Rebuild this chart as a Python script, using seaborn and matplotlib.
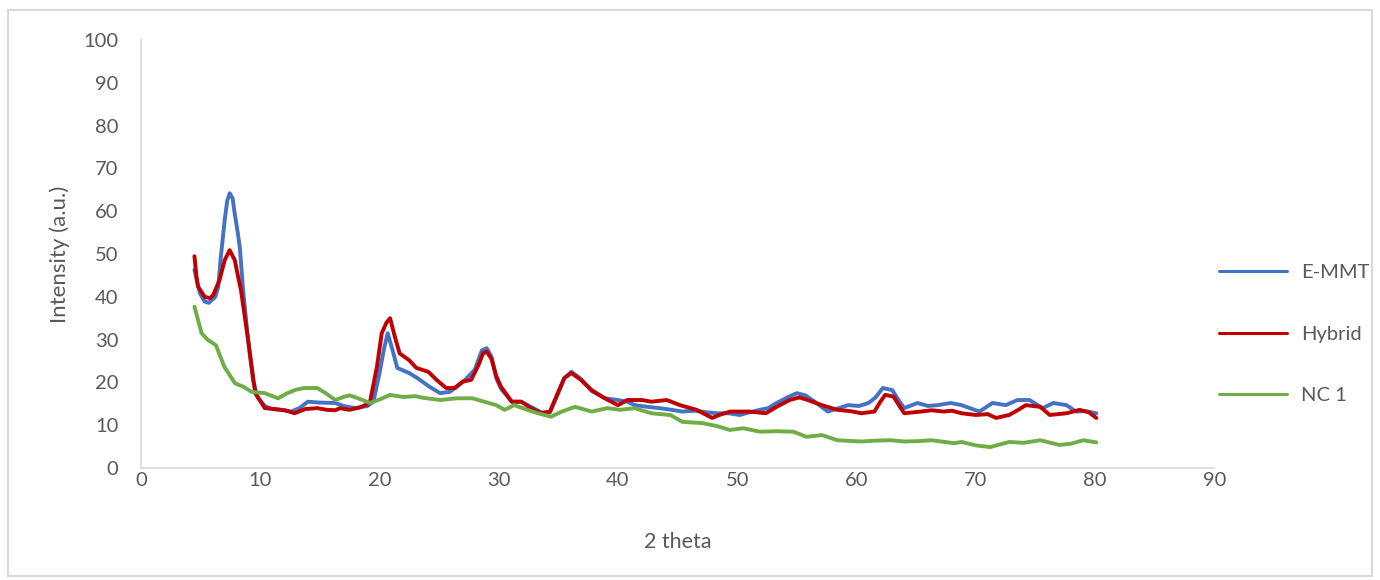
import numpy as np
import pandas as pd
import matplotlib
matplotlib.use("Agg")
import matplotlib.pyplot as plt
import seaborn as sns
from matplotlib.patches import Rectangle

# values
emmt_x = [4.5, 4.95, 5.36, 5.7, 6.25, 6.5, 6.7, 7.04, 7.25, 7.46, 7.7, 7.9, 8.1, 8.3,
          8.58, 9.0, 9.4, 9.8, 10.4, 11.0,
          12.0, 12.6, 13.3, 14.0, 15.0, 16.3, 17.0, 18.0, 19.0, 19.5, 20.0, 20.4,
          20.7, 21.1, 21.5, 22.5, 23.2, 24.2, 25.1, 25.9, 26.5, 27.2, 28.0, 28.6,
          29.0, 29.4, 29.8, 30.2, 31.1, 31.9, 32.7, 33.6, 34.3, 35.0, 35.5, 36.1,
          36.9, 37.8, 38.9, 40.0, 40.8, 41.4, 42.5, 43.5, 44.5, 45.4, 46.5, 47.5,
          48.3, 49.3, 50.2, 51.0, 51.9, 52.6, 53.3, 54.2, 55.0, 55.7, 56.5, 57.6,
          58.5, 59.3, 60.2, 61.0, 61.6, 62.2, 63.0, 63.5, 64.0, 65.1, 66.0, 66.8,
          67.9, 68.8, 69.5, 70.3, 71.4, 72.5, 73.5, 74.5, 75.6, 76.5, 77.6, 78.4,
          79.2, 80.1]
emmt_y = [46.3, 40.9, 38.9, 38.6, 40.0, 42.4, 49.0, 58.0, 62.5, 64.2, 63.0, 59.0, 55.6, 51.7,
          41.6, 29.9, 20.6, 16.5, 14.5, 13.8,
          13.5, 13.2, 14.0, 15.5, 15.3, 15.2, 14.5, 14.0, 14.5, 15.5, 22.0, 28.0,
          31.5, 27.6, 23.4, 22.2, 21.0, 19.0, 17.5, 17.8, 19.0, 20.6, 23.0, 27.5,
          28.0, 26.0, 21.0, 18.5, 15.5, 15.5, 14.3, 13.0, 13.0, 17.5, 21.0, 22.5,
          20.8, 18.0, 16.3, 15.9, 15.5, 14.7, 14.3, 14.0, 13.6, 13.2, 13.4, 13.0,
          12.8, 12.8, 12.4, 13.0, 13.6, 14.0, 15.2, 16.5, 17.5, 17.0, 15.5, 13.2,
          14.0, 14.7, 14.5, 15.2, 16.5, 18.7, 18.2, 16.0, 14.0, 15.2, 14.5, 14.7,
          15.2, 14.7, 14.0, 13.2, 15.2, 14.7, 15.9, 15.9, 14.0, 15.2, 14.7, 13.2,
          13.3, 12.8]

hybrid_x = [4.5, 4.67, 4.8, 5.36, 5.8, 6.07, 6.6, 7.04, 7.45, 7.88, 8.16, 8.4, 9.0, 9.6,
            10.4, 11.2, 12.1, 12.9,
            13.8, 14.8, 15.6, 16.3, 16.7, 17.5, 18.4, 19.2, 19.8, 20.2, 20.6, 20.9,
            21.3, 21.7, 22.5, 23.1, 24.1, 24.8, 25.6, 26.3, 27.0, 27.7, 28.3, 28.7,
            29.0, 29.4, 29.8, 30.2, 31.1, 31.9, 32.7, 33.6, 34.3, 35.0, 35.5, 36.1,
            36.9, 37.8, 38.9, 40.0, 40.8, 42.0, 42.8, 44.1, 45.2, 46.6, 47.9, 48.6,
            49.4, 51.0, 52.4, 53.3, 54.4, 55.2, 55.8, 57.1, 58.4, 59.5, 60.4, 61.5,
            62.0, 62.4, 63.1, 63.6, 64.0, 65.4, 66.3, 67.3, 68.0, 68.8, 70.0, 71.0,
            71.7, 72.8, 73.5, 74.2, 75.4, 76.2, 77.6, 78.7, 79.5, 80.1]
hybrid_y = [49.5, 44.7, 42.4, 40.0, 39.7, 40.4, 43.9, 48.6, 50.9, 48.6, 44.7, 41.6, 29.9, 17.5,
            14.0, 13.8, 13.5, 12.8,
            13.8, 14.0, 13.6, 13.5, 14.0, 13.6, 14.2, 15.2, 23.7, 31.5, 34.0, 35.0,
            30.7, 26.8, 25.2, 23.4, 22.5, 20.6, 18.7, 18.7, 20.2, 20.6, 24.0, 26.8,
            27.2, 25.5, 21.5, 19.0, 15.5, 15.5, 14.0, 12.8, 13.2, 17.8, 21.0, 22.2,
            20.6, 18.2, 16.3, 14.7, 15.9, 15.9, 15.5, 15.9, 14.7, 13.6, 11.7, 12.5,
            13.2, 13.2, 12.8, 14.3, 15.9, 16.5, 16.0, 14.7, 13.6, 13.3, 12.8, 13.2,
            15.5, 17.1, 16.7, 14.5, 12.8, 13.2, 13.5, 13.2, 13.4, 12.8, 12.4, 12.6,
            11.7, 12.4, 13.5, 14.7, 14.3, 12.4, 12.8, 13.6, 13.0, 11.7]

nc1_x = [4.5, 5.1, 5.6, 6.3, 7.0, 7.9, 8.6, 9.3, 10.4, 11.5, 12.3, 13.0, 13.7, 14.8,
         15.5, 16.3, 17.1, 17.5, 18.6, 19.2, 20.0, 20.9, 22.0, 23.0, 23.7, 25.1,
         26.5, 27.8, 28.8, 29.8, 30.5, 31.3, 32.5, 33.3, 34.4, 35.3, 36.4, 37.8,
         39.1, 40.2, 41.4, 42.8, 44.4, 45.4, 47.1, 48.3, 49.4, 50.5, 51.9, 53.3,
         54.7, 55.8, 57.1, 58.4, 60.4, 61.5, 62.9, 64.0, 65.2, 66.3, 68.2, 68.8,
         70.0, 71.2, 72.8, 74.0, 75.4, 77.0, 78.0, 79.0, 80.1]
nc1_y = [37.7, 31.5, 30.0, 28.7, 23.7, 19.8, 19.0, 17.8, 17.5, 16.3, 17.5, 18.3, 18.7, 18.7,
         17.5, 15.9, 16.7, 17.0, 15.9, 15.2, 16.0, 17.1, 16.6, 16.8, 16.4, 15.9,
         16.3, 16.3, 15.5, 14.7, 13.6, 14.7, 13.5, 12.8, 12.0, 13.2, 14.3, 13.2,
         14.0, 13.6, 14.0, 12.8, 12.4, 10.8, 10.5, 9.8, 8.9, 9.3, 8.5, 8.6,
         8.5, 7.3, 7.7, 6.5, 6.2, 6.4, 6.5, 6.2, 6.3, 6.5, 5.8, 6.1,
         5.3, 4.9, 6.1, 5.9, 6.5, 5.4, 5.7, 6.5, 6.0]

series_names = ["E-MMT", "Hybrid", "NC 1"]
colors = ["#4472C4", "#C00000", "#70AD47"]

df = pd.concat([
    pd.DataFrame({"2 theta": emmt_x, "Intensity": emmt_y, "series": "E-MMT"}),
    pd.DataFrame({"2 theta": hybrid_x, "Intensity": hybrid_y, "series": "Hybrid"}),
    pd.DataFrame({"2 theta": nc1_x, "Intensity": nc1_y, "series": "NC 1"}),
], ignore_index=True)

sns.set_style("white")
plt.rcParams["font.family"] = ["Lato", "DejaVu Sans"]
text_col = "#595959"
grid_col = "#D9D9D9"

fig = plt.figure(figsize=(13.8, 5.8), dpi=100)
ax = fig.add_axes([0.102, 0.193, 0.778, 0.738])

sns.lineplot(data=df, x="2 theta", y="Intensity", hue="series",
             hue_order=series_names, palette=colors, estimator=None,
             sort=False, linewidth=2.8, ax=ax)
for ln in ax.lines:
    ln.set_solid_joinstyle("round")
    ln.set_solid_capstyle("round")

ax.set_xlim(0, 90)
ax.set_ylim(0, 100)
ax.set_xticks(np.arange(0, 91, 10))
ax.set_yticks(np.arange(0, 101, 10))
ax.tick_params(axis="both", length=0, labelsize=14.5, labelcolor=text_col)
ax.tick_params(axis="y", pad=16)
ax.tick_params(axis="x", pad=3)

for side in ["top", "right"]:
    ax.spines[side].set_visible(False)
for side in ["left", "bottom"]:
    ax.spines[side].set_color(grid_col)
    ax.spines[side].set_linewidth(1.2)

ax.set_xlabel("2 theta", fontsize=15.5, color=text_col)
ax.set_ylabel("Intensity (a.u.)", fontsize=16, color=text_col)
ax.xaxis.set_label_coords(0.5, -0.15)
ax.yaxis.set_label_coords(-0.066, 0.5)

handles, labels = ax.get_legend_handles_labels()
ax.get_legend().remove()
leg = fig.legend(handles, labels, loc="center left", bbox_to_anchor=(0.883, 0.424),
                 frameon=False, fontsize=14.5, handlelength=3.4, handletextpad=0.7,
                 labelspacing=2.2, borderpad=0, borderaxespad=0)
for t in leg.get_texts():
    t.set_color(text_col)
for h in leg.legend_handles:
    h.set_linewidth(2.2)

# light frame around the whole chart area
fig.patches.append(Rectangle((8 / 1380, 4 / 580), 1364 / 1380, 566 / 580,
                             transform=fig.transFigure, fill=False,
                             edgecolor=grid_col, linewidth=1.5))

fig.savefig("out.png", dpi=100)
